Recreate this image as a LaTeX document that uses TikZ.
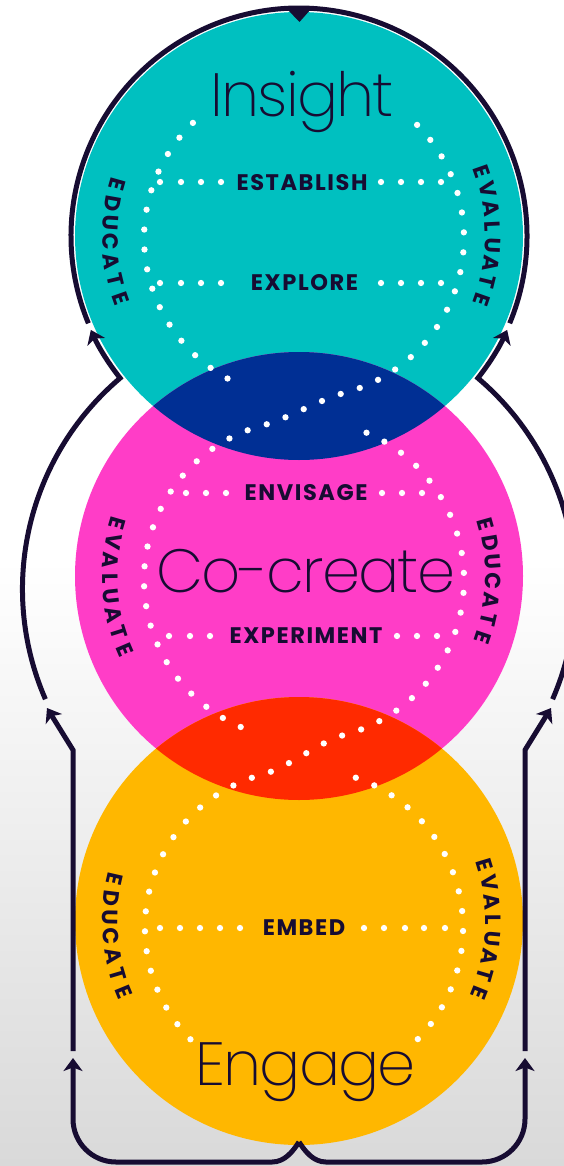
\documentclass[tikz,border=0pt]{standalone}
\usepackage{fontspec}
\usetikzlibrary{arrows.meta,calc}
\newfontfamily\headfont{Poppins ExtraLight}[LetterSpace=-3]
\newfontfamily\labfont{Poppins Bold}[LetterSpace=7]
\newfontfamily\arcfont{Poppins Bold}
\definecolor{ink}{HTML}{170C32}
\definecolor{tealc}{HTML}{00C0C0}
\definecolor{magc}{HTML}{FF3DC7}
\definecolor{yelc}{HTML}{FFB700}
\definecolor{bluec}{HTML}{002F94}
\definecolor{redc}{HTML}{FF2A00}
\definecolor{bggray}{HTML}{D9D9D9}
% #1 name prefix, #2 centre, #3 radius, #4 first angle, #5 step, #6 rotation base, #7 letters
\newcommand\arcword[7]{%
  \foreach \ch [count=\i] in {#7} {%
    \pgfmathsetmacro\a{#4+(\i-1)*(#5)}%
    \pgfmathsetmacro\r{#6-(\a)}%
    \node[arclbl, rotate=\r] (#1\i) at ($(#2)+(\a:#3)$) {\ch};
  }%
}
\begin{document}
\begin{tikzpicture}[x=1pt, y=-1pt,
  flowline/.style={draw=ink, line width=5pt},
  tipped/.style={-{Stealth[length=13pt,width=19pt,inset=3.5pt]}},
  dotline/.style={draw=white, line width=6.3pt, line cap=round, dash pattern=on 0pt off 20pt},
  headtxt/.style={font=\headfont\fontsize{61}{61}\selectfont, text=ink, inner sep=0pt, anchor=base},
  rowlbl/.style={font=\labfont\fontsize{22.5}{22.5}\selectfont, text=ink, inner sep=0pt},
  arclbl/.style={font=\arcfont\fontsize{22}{22}\selectfont, text=ink, inner sep=0pt}]
\useasboundingbox (0,0) rectangle (564,1166);
% background
\fill[white] (0,0) rectangle (564,1166);
\shade[top color=white, bottom color=bggray] (0,560) rectangle (564,1166);
% centres
\coordinate (C1) at (299,236);
\coordinate (C2) at (299,576);
\coordinate (C3) at (299,921);
% circles
\fill[tealc] (C1) circle (224);
\fill[magc] (C2) circle (224);
\fill[yelc] (C3) circle (224);
\begin{scope}
  \clip (C1) circle (224);
  \fill[bluec] (C2) circle (224);
\end{scope}
\begin{scope}
  \clip (C2) circle (224);
  \fill[redc] (C3) circle (224);
\end{scope}
% dotted inner paths
\draw[dotline] (192.9,122.9) arc[start angle=226, end angle=115, radius=160];
\draw[dotline] (417.1,124.9) arc[start angle=-45, end angle=75, radius=160]
  .. controls (319.3,399.5) and (288.7,418.5) .. (262.6,425.5)
  arc[start angle=255, end angle=112, radius=160];
\draw[dotline] (366.5,432.7) arc[start angle=-67, end angle=75, radius=160]
  .. controls (319.4,741.5) and (288.8,767.4) .. (262.8,774.4)
  arc[start angle=255, end angle=134, radius=159];
\draw[dotline] (355.8,777.7) arc[start angle=-71, end angle=46, radius=159];
% dotted rows
\foreach \x in {160,181,201,221,381,401,421,441} {
  \fill[white] (\x,182) circle (3.15);
  \fill[white] (\x,283) circle (3.15);
}
\foreach \x in {186,206,226,382,402,422} \fill[white] (\x,493) circle (3.15);
\foreach \x in {169,190,210,397,417,437} \fill[white] (\x,636) circle (3.15);
\foreach \x in {160,180,200,220,240,364,384,405,424,445} \fill[white] (\x,928) circle (3.15);
% row labels
\node[rowlbl] (establish) at (302,183) {ESTABLISH};
\node[rowlbl] (explore) at (304.5,283) {EXPLORE};
\node[rowlbl] (envisage) at (306,493) {ENVISAGE};
\node[rowlbl] (experiment) at (306,636) {EXPERIMENT};
\node[rowlbl] (embed) at (304,928) {EMBED};
% headings
\node[headtxt] (insight) at (302,117) {Insight};
\node[headtxt] (cocreate) at (306,592) {Co-create};
\node[headtxt] (engage) at (305.5,1085) {Engage};
% arc labels
\arcword{ta}{C1}{189}{195.75}{-5.85}{90}{E,D,U,C,A,T,E}
\arcword{tb}{C1}{194}{-19.25}{5.5}{-90}{E,V,A,L,U,A,T,E}
\arcword{ma}{C2}{189}{196.1}{-5.6}{90}{E,V,A,L,U,A,T,E}
\arcword{mb}{C2}{194}{-15.6}{5.7}{-90}{E,D,U,C,A,T,E}
\arcword{ya}{C3}{189}{192.85}{-5.85}{90}{E,D,U,C,A,T,E}
\arcword{yb}{C3}{194}{-16.75}{5.5}{-90}{E,V,A,L,U,A,T,E}
% connectors
\coordinate (cusp) at (299,1142);
\coordinate (tipLa) at (73,1058);
\coordinate (tipRa) at (525,1058);
\coordinate (startLb) at (73,1051);
\coordinate (startRb) at (525,1051);
\coordinate (bendL) at (73,750);
\coordinate (bendR) at (525,750);
\coordinate (tipLb) at (47,708);
\coordinate (tipRb) at (551,708);
\coordinate (startLc) at (45.4,699.2);
\coordinate (startRc) at (552.6,699.2);
\coordinate (startT) at (88.4,323.3);
\draw[flowline, tipped] (cusp) .. controls (293,1151) and (285,1162) .. (272,1162) -- (116,1162)
  arc[start angle=90, end angle=180, radius=43] -- (tipLa);
\draw[flowline, tipped] (cusp) .. controls (305,1151) and (313,1162) .. (326,1162) -- (482,1162)
  arc[start angle=90, end angle=0, radius=43] -- (tipRa);
\draw[flowline, tipped] (startLb) -- (bendL) -- (tipLb);
\draw[flowline, tipped] (startRb) -- (bendR) -- (tipRb);
\draw[flowline, tipped] (startLc) arc[start angle=156.5, end angle=229.7, radius=276.5]
  arc[start angle=141.6, end angle=155.8, radius=228];
\draw[flowline, tipped] (startRc) arc[start angle=23.5, end angle=-49.7, radius=276.5]
  arc[start angle=38.4, end angle=24.2, radius=228];
\draw[flowline] (startT) arc[start angle=157.5, end angle=382.5, radius=228];
\fill[ink] (287,9) -- (311,9) -- (299.5,22) -- cycle;
\end{tikzpicture}
\end{document}
